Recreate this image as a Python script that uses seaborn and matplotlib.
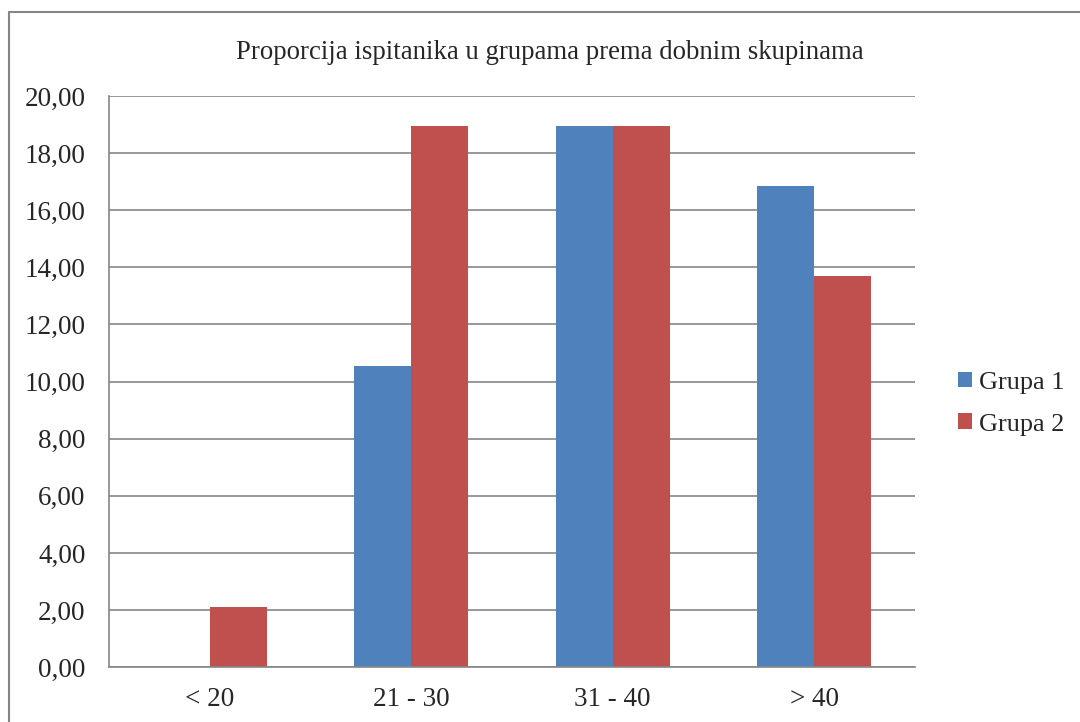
import pandas as pd
import seaborn as sns
import matplotlib
import matplotlib.pyplot as plt
from matplotlib.patches import Rectangle

matplotlib.use("Agg")

# Data
categories = ["< 20", "21 - 30", "31 - 40", "> 40"]
grupa_1 = [0.0, 10.53, 18.95, 16.84]
grupa_2 = [2.11, 18.95, 18.95, 13.68]
series_names = ["Grupa 1", "Grupa 2"]
y_ticks = [0, 2, 4, 6, 8, 10, 12, 14, 16, 18, 20]

df = pd.DataFrame({
    "Dob": categories * 2,
    "Vrijednost": grupa_1 + grupa_2,
    "Grupa": [series_names[0]] * 4 + [series_names[1]] * 4,
})

sns.set_style("white")
plt.rcParams["font.family"] = ["Liberation Serif", "DejaVu Serif"]

fig = plt.figure(figsize=(10.8, 7.22), dpi=100)
ax = fig.add_axes([0.101, 0.076, 0.746, 0.791])

sns.barplot(data=df, x="Dob", y="Vrijednost", hue="Grupa",
            palette=["#4F81BD", "#C0504D"], width=0.566, gap=0,
            saturation=1, linewidth=0, ax=ax, zorder=3)

ax.set_ylim(0, 20)
ax.set_yticks(y_ticks)
ax.set_yticklabels([f"{v:.2f}".replace(".", ",") for v in y_ticks])
ax.tick_params(axis="y", labelsize=19.5, length=0, pad=17)
ax.tick_params(axis="x", labelsize=19.5, length=0, pad=14)
ax.set_xlabel("")
ax.set_ylabel("")
ax.grid(axis="y", color="#868686", linewidth=1.2, zorder=0)
for side in ["top", "right"]:
    ax.spines[side].set_visible(False)
for side in ["left", "bottom"]:
    ax.spines[side].set_color("#868686")
    ax.spines[side].set_linewidth(1.2)
    ax.spines[side].set_zorder(4)

fig.text(0.5088, 0.927, "Proporcija ispitanika u grupama prema dobnim skupinama",
         ha="center", va="center", fontsize=19.3)

ax.legend(loc="center left", bbox_to_anchor=(0.887, 0.441),
          bbox_transform=fig.transFigure, frameon=False, borderaxespad=0,
          borderpad=0, fontsize=18.9, handlelength=0.55, handleheight=0.55,
          handletextpad=0.25, labelspacing=0.75)

# outer chart border (only left and top edges are visible in the crop)
fig.patches.append(Rectangle((9 / 1080, -0.05), 1.2, 1.05 - 12 / 722,
                             transform=fig.transFigure, fill=False,
                             edgecolor="#868686", linewidth=1.5))

fig.savefig("out.png", dpi=100)
